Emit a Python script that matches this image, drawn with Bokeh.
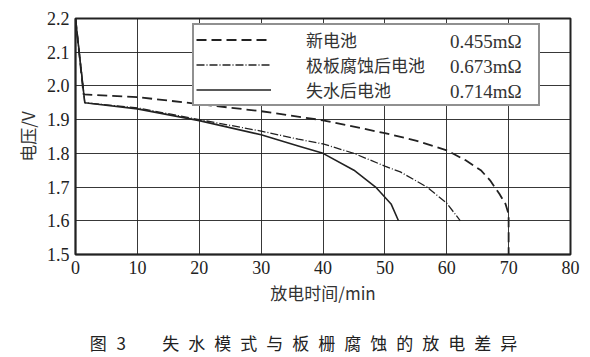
from bokeh.plotting import figure
from bokeh.layouts import column
from bokeh.models import (Range1d, FixedTicker, NumeralTickFormatter, Legend, LegendItem, Div)
from bokeh.embed import file_html
from bokeh.resources import INLINE

# ---- data ----
new_t = [0, 1.3, 10, 20, 30, 40, 50, 55, 60, 63, 65.5, 67, 68.5, 69.5, 70, 70]
new_v = [2.2, 1.975, 1.967, 1.946, 1.925, 1.898, 1.86, 1.838, 1.809, 1.78, 1.75, 1.72, 1.68, 1.65, 1.62, 1.5]

corr_t = [0, 1.5, 10, 20, 30, 36, 40, 45, 50, 52.5, 56.8, 60, 62.2]
corr_v = [2.2, 1.95, 1.935, 1.90, 1.866, 1.842, 1.828, 1.80, 1.762, 1.745, 1.70, 1.652, 1.60]

dry_t = [0, 1.5, 10, 20, 30, 36, 40, 45, 48.5, 51, 52.2]
dry_v = [2.2, 1.95, 1.932, 1.897, 1.855, 1.822, 1.80, 1.75, 1.70, 1.65, 1.60]

names = ["新电池", "极板腐蚀后电池", "失水后电池"]
resist = ["0.455mΩ", "0.673mΩ", "0.714mΩ"]
x_ticks = [0, 10, 20, 30, 40, 50, 60, 70, 80]
y_ticks = [1.5, 1.6, 1.7, 1.8, 1.9, 2.0, 2.1, 2.2]
x_label = "放电时间/min"
y_label = "电压/V"
fig_no = "图"
fig_num = "3"
caption_body = "失水模式与板栅腐蚀的放电差异"

CJK = "Noto Sans CJK SC"
SERIF = "serif"
INK = "#222222"

p = figure(width=590, height=310, output_backend="svg", toolbar_location=None,
           x_range=Range1d(0, 80), y_range=Range1d(1.5, 2.2),
           min_border_left=75, min_border_right=20, min_border_top=18, min_border_bottom=56)
p.background_fill_color = "white"
p.border_fill_color = "white"
p.outline_line_color = INK
p.outline_line_width = 2

for ax in (p.xaxis[0], p.yaxis[0]):
    ax.major_tick_in = 0
    ax.major_tick_out = 0
    ax.minor_tick_in = 0
    ax.minor_tick_out = 0
    ax.axis_line_color = INK
    ax.axis_line_width = 1.5
    ax.major_label_text_font = SERIF
    ax.major_label_text_font_size = "18px"
    ax.major_label_text_color = INK
    ax.axis_label_text_font = CJK
    ax.axis_label_text_font_size = "17px"
    ax.axis_label_text_font_style = "normal"
    ax.axis_label_text_color = "#333333"

p.xaxis.ticker = FixedTicker(ticks=x_ticks)
p.yaxis.ticker = FixedTicker(ticks=y_ticks)
p.yaxis.formatter = NumeralTickFormatter(format="0.0")
p.xaxis.major_label_standoff = 6
p.yaxis.major_label_standoff = 6
p.xaxis.axis_label = x_label
p.yaxis.axis_label = y_label
p.xaxis.axis_label_standoff = 3
p.yaxis.axis_label_standoff = 4

p.xgrid.ticker = FixedTicker(ticks=x_ticks)
p.ygrid.ticker = FixedTicker(ticks=y_ticks)
for g in (p.xgrid[0], p.ygrid[0]):
    g.grid_line_color = INK
    g.grid_line_width = 1
    g.grid_line_alpha = 0.9

r_new = p.line(new_t, new_v, line_color=INK, line_width=1.8, line_dash="10 5")
r_corr = p.line(corr_t, corr_v, line_color=INK, line_width=1.3, line_dash="8 2 1 2")
r_dry = p.line(dry_t, dry_v, line_color=INK, line_width=1.6)
renderers = [r_new, r_corr, r_dry]

common = dict(orientation="vertical", padding=2, margin=0, spacing=-3,
              glyph_height=25, label_height=25, label_text_color="#333333")

legend = Legend(items=[LegendItem(label=n, renderers=[r]) for n, r in zip(names, renderers)],
                location=(117, 148), glyph_width=75, label_standoff=35, label_width=230,
                label_text_font=CJK, label_text_font_size="17px",
                border_line_color=INK, border_line_width=2,
                background_fill_color="white", background_fill_alpha=1,
                level="underlay", **common)
p.add_layout(legend, "center")

# resistance values shown in the right part of the legend box
legend_vals = Legend(items=[LegendItem(label=v, renderers=[r]) for v, r in zip(resist, renderers)],
                     location=(373, 148), glyph_width=0, label_standoff=0, label_width=60,
                     label_text_font=SERIF, label_text_font_size="19px",
                     border_line_alpha=0, background_fill_alpha=0,
                     level="annotation", **common)
p.add_layout(legend_vals, "center")

# figure caption below the chart
caption_html = (f'{fig_no}<span style="letter-spacing:3px"> </span>{fig_num}'
                f'    {caption_body}')
cap = Div(text=caption_html, width=590, height=47,
          styles={"text-align": "center", "font-family": CJK, "font-size": "17px",
                  "letter-spacing": "9px", "word-spacing": "-6px", "white-space": "pre",
                  "color": INK, "padding-top": "21px", "padding-left": "26px",
                  "box-sizing": "border-box", "line-height": "24px", "margin": "0"})

layout = column(p, cap, spacing=0)
open("out.html", "w").write(file_html(layout, INLINE))
